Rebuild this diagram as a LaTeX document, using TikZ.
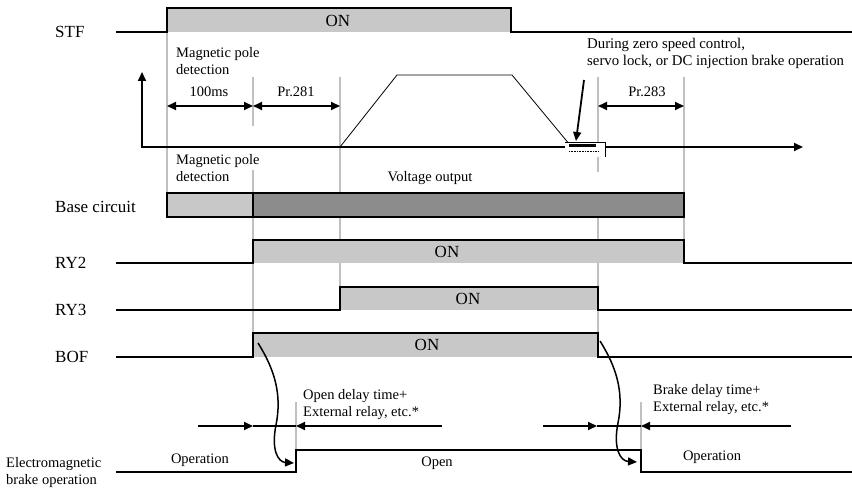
\documentclass[tikz,border=0pt]{standalone}
\usepackage{fontspec}
\setmainfont{Liberation Serif}
\usepackage{tikz}
\usetikzlibrary{arrows.meta}
\pgfdeclarelayer{background}
\pgfsetlayers{background,main}
\definecolor{lightbar}{HTML}{C8C8C8}
\definecolor{darkbar}{HTML}{8C8C8C}
\definecolor{guidegray}{HTML}{C0C0C0}
\tikzset{
  sig/.style={line width=2pt},
  guide/.style={line width=1.5pt, guidegray},
  lbl/.style={font=\fontsize{17}{20}\selectfont, inner sep=0pt},
  note/.style={font=\fontsize{14.5}{17}\selectfont, align=left, inner sep=0pt},
  dimline/.style={line width=1.8pt, {Triangle[length=9pt,width=8pt]}-{Triangle[length=9pt,width=8pt]}},
  tip/.style={-{Triangle[length=9pt,width=8pt]}},
}

\begin{document}
\begin{tikzpicture}[x=1pt,y=-1pt]
\useasboundingbox (0,0) rectangle (852,489);

% signal names
\node[lbl, anchor=west] (stf) at (55,32) {STF};
\node[lbl, anchor=west] (base) at (55,207) {Base circuit};
\node[lbl, anchor=west] (ry2) at (55,263) {RY2};
\node[lbl, anchor=west] (ry3) at (55,310) {RY3};
\node[lbl, anchor=west] (bof) at (55,357) {BOF};
\node[note, anchor=west] (mbo) at (6,473) {Electromagnetic\\brake operation};

% STF
\fill[lightbar] (167,8) rectangle (511,32);
\draw[sig] (116,32) -- (167,32) -- (167,8) -- (511,8) -- (511,32) -- (852,32);
\node[lbl] (stfon) at (338,21) {ON};

% speed
\draw[sig, {Triangle[length=9pt,width=8pt]}-{Triangle[length=9pt,width=8pt]}] (142,72) -- (142,147) -- (803,147);
\draw[line width=0.8pt] (340,147) -- (397,75) -- (512,75) -- (570,145);
\fill[white] (565,142) rectangle (605,157);
\draw[line width=0.6pt] (565,142) -- (605,142) -- (605,157);
\draw[line width=3pt] (569,146) -- (596,146);
\draw[line width=0.6pt, densely dotted] (569,151) -- (598,151);

\node[note, anchor=west] (mp1) at (176,61.5) {Magnetic pole\\detection};
\node[note] (t100) at (209,92) {100ms};
\node[note] (t281) at (296,92) {Pr.281};
\node[note] (t283) at (647,92) {Pr.283};
\draw[dimline] (167,106) -- (253,106);
\draw[dimline] (253,106) -- (340,106);
\draw[dimline] (598,106) -- (684,106);

\node[note, anchor=west, font=\fontsize{14.8}{17}\selectfont] (zsnote) at (587,53.5)
  {During zero speed control,\\servo lock, or DC injection brake operation};
\coordinate (zsfrom) at (584,80);
\coordinate (zsto) at (576,141);
\draw[line width=1.8pt, tip] (zsfrom) -- (zsto);

% base circuit
\node[note, anchor=west] (mp2) at (176,168) {Magnetic pole\\detection};
\node[note] (vout) at (430,178) {Voltage output};
\fill[lightbar] (167,193) rectangle (253,217);
\fill[darkbar] (253,193) rectangle (684,217);
\draw[sig] (167,193) rectangle (684,217);
\draw[sig] (253,193) -- (253,217);

% RY2
\fill[lightbar] (253,240) rectangle (684,263);
\draw[sig] (116,263) -- (253,263) -- (253,240) -- (684,240) -- (684,263) -- (852,263);
\node[lbl] (ry2on) at (447,252) {ON};

% RY3
\fill[lightbar] (340,287) rectangle (598,310);
\draw[sig] (116,310) -- (340,310) -- (340,287) -- (598,287) -- (598,310) -- (852,310);
\node[lbl] (ry3on) at (468,299) {ON};

% BOF
\fill[lightbar] (253,333) rectangle (598,357);
\draw[sig] (116,357) -- (253,357) -- (253,333) -- (598,333) -- (598,357) -- (852,357);
\node[lbl] (bofon) at (427,345) {ON};

% brake
\draw[sig] (116,472) -- (296,472) -- (296,450) -- (641,450) -- (641,472) -- (852,472);
\node[note] (op1) at (200,460) {Operation};
\node[note] (open) at (437,463) {Open};
\node[note] (op2) at (712,457) {Operation};

\node[note, anchor=west] (odly) at (303,405) {Open delay time+\\External relay, etc.*};
\node[note, anchor=west] (bdly) at (653,400) {Brake delay time+\\External relay, etc.*};
\draw[sig, tip] (198,426) -- (253,426);
\draw[sig] (253,426) -- (296,426);
\draw[sig, tip] (442,426) -- (296,426);
\draw[sig, tip] (543,426) -- (597,426);
\draw[sig] (597,426) -- (641,426);
\draw[sig, tip] (791,426) -- (641,426);

\coordinate (bofon1) at (258,343);
\coordinate (brk1) at (294,463);
\coordinate (bofoff1) at (600,341);
\coordinate (brk2) at (637,462);
\draw[line width=1.5pt, tip] (bofon1) .. controls (275,370) and (282,395) .. (276,425)
  .. controls (271,450) and (278,462) .. (brk1);
\draw[line width=1.5pt, tip] (bofoff1) .. controls (617,368) and (624,393) .. (618,423)
  .. controls (613,448) and (620,461) .. (brk2);

\begin{pgfonlayer}{background}
  \draw[guide] (167,32) -- (167,193);
  \draw[guide] (253,77) -- (253,126);
  \draw[guide] (253,170) -- (253,333);
  \draw[guide] (340,77) -- (340,287);
  \draw[guide] (598,77) -- (598,172);
  \draw[guide] (598,193) -- (598,333);
  \draw[guide] (684,77) -- (684,240);
  \draw[guide] (296,402) -- (296,450);
  \draw[guide] (641,402) -- (641,450);
\end{pgfonlayer}
\end{tikzpicture}
\end{document}
